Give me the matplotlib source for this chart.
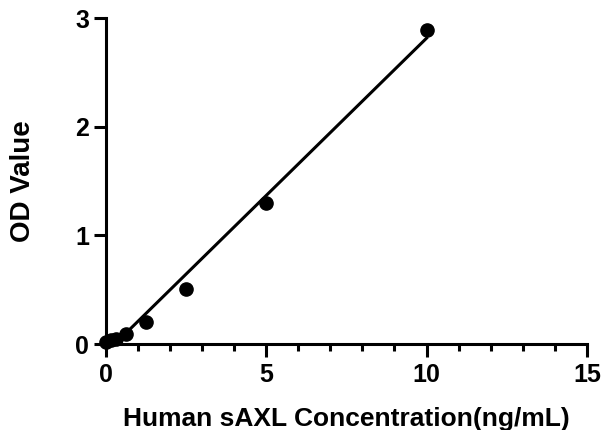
import numpy as np
import matplotlib
matplotlib.use('Agg')
from matplotlib import pyplot as plt
from matplotlib.ticker import MultipleLocator

plt.rcParams['font.family'] = ['Liberation Sans', 'DejaVu Sans']
plt.rcParams['font.weight'] = 'bold'

# standard curve readings
concentration = [0, 0.156, 0.3125, 0.625, 1.25, 2.5, 5, 10]
od_value = [0.02, 0.035, 0.05, 0.092, 0.205, 0.506, 1.30, 2.89]

x_label = "Human sAXL Concentration(ng/mL)"
y_label = "OD Value"

# linear fit through the standards
slope, intercept = np.polyfit(concentration, od_value, 1)
fit_x = np.linspace(0, max(concentration), 200)
fit_y = slope * fit_x + intercept

fig = plt.figure(figsize=(6.05, 4.3), dpi=100)
ax = fig.add_axes([0.175, 0.2, 0.795, 0.758])

ax.plot(fit_x, fit_y, color="black", linewidth=2.2, zorder=2)
ax.plot(concentration, od_value, linestyle="none", marker="o", markersize=9.5,
        color="black", clip_on=False, zorder=3)

ax.set_xlim(0, 15)
ax.set_ylim(0, 3)
ax.xaxis.set_major_locator(MultipleLocator(5))
ax.xaxis.set_minor_locator(MultipleLocator(1))
ax.yaxis.set_major_locator(MultipleLocator(1))

for side in ("top", "right"):
    ax.spines[side].set_visible(False)
for side in ("left", "bottom"):
    ax.spines[side].set_linewidth(2.2)

ax.tick_params(which="major", direction="out", length=9, width=2.2, labelsize=18)
ax.tick_params(axis="x", which="major", pad=5)
ax.tick_params(axis="y", which="major", pad=3)
ax.tick_params(which="minor", direction="out", length=5, width=2.2)
for lbl in ax.get_xticklabels() + ax.get_yticklabels():
    lbl.set_fontweight("bold")

ax.set_xlabel(x_label, fontsize=19, fontweight="bold", labelpad=14)
ax.set_ylabel(y_label, fontsize=20, fontweight="bold", labelpad=28)

fig.savefig("out.png", dpi=100)
